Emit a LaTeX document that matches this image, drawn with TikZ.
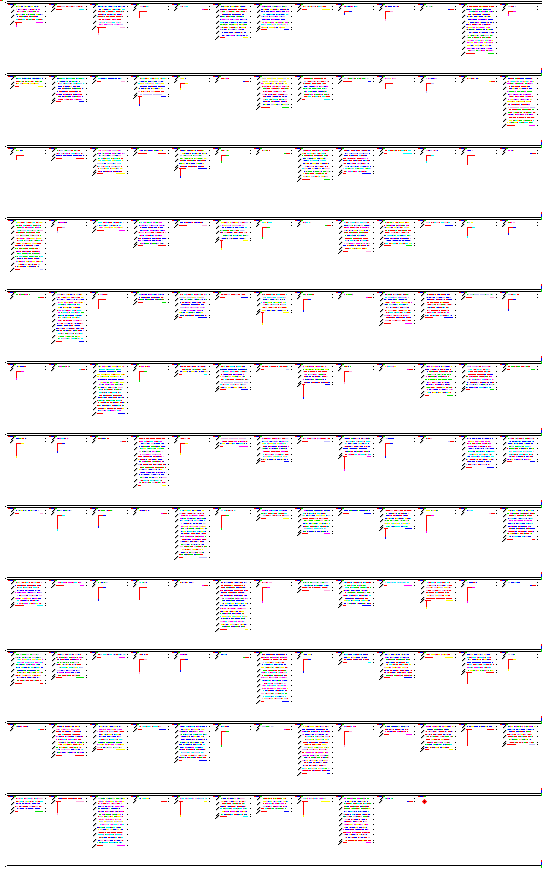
\documentclass[tikz,border=0pt]{standalone}
\definecolor{pal0}{HTML}{FF0000}
\definecolor{pal1}{HTML}{0000FF}
\definecolor{pal2}{HTML}{00E000}
\definecolor{pal3}{HTML}{FFFF00}
\definecolor{pal4}{HTML}{00FFFF}
\definecolor{pal5}{HTML}{FF00FF}
\definecolor{pal6}{HTML}{FFB0E0}
\definecolor{pal7}{HTML}{C0C0FF}
\definecolor{pal8}{HTML}{FF0000}
\definecolor{pal9}{HTML}{0000FF}
\tikzset{
  dbl/.style={line width=1pt, black},
  seg/.style={line width=1pt},
}
\newcommand\myrowbar[3]{%
 \pgfmathrandominteger{\qca}{0}{9}\pgfmathrandominteger{\qcb}{0}{9}%
 \pgfmathrandominteger{\qcc}{0}{9}\pgfmathrandominteger{\qcd}{0}{9}%
 \pgfmathrandominteger{\qpa}{0}{6}\pgfmathrandominteger{\qpb}{0}{8}%
 \pgfmathrandominteger{\qpc}{0}{5}\pgfmathrandominteger{\qpd}{0}{9}%
 \draw[seg,pal\qca] (#1,#3)--(#2,#3);%
 \draw[seg,pal\qcb,dash pattern=on 3pt off 4pt,dash phase=\qpa pt] (#1,#3)--(#2,#3);%
 \draw[seg,pal\qcc,dash pattern=on 2pt off 7pt,dash phase=\qpb pt] (#1,#3)--(#2,#3);%
 \draw[seg,pal\qcd,dash pattern=on 1pt off 5pt,dash phase=\qpc pt] (#1,#3)--(#2,#3);%
 \draw[seg,white,dash pattern=on 1pt off 9pt,dash phase=\qpd pt] (#1,#3)--(#2,#3);%
}
% #1 = cell left x (integer), #2 = row centre y (integer+0.5)
\newcommand\lglyph[2]{%
 \fill[black] (#1+3,#2+0.5) rectangle ++(1,1) (#1+4,#2-0.5) rectangle ++(1,1) (#1+5,#2-1.5) rectangle ++(1,1);%
}
\newcommand\rdot[2]{\fill[black] (#1+37,#2-0.5) rectangle ++(1,1);}
\newcommand\longcell{%
  \pgfmathtruncatemacro\nm{\nr-2}%
  \foreach \i in {0,...,\nm}{%
     \pgfmathsetmacro\ry{\yo+5.5+round(2.6*\i)}%
     \pgfmathrandominteger{\qia}{0}{2}%
     \pgfmathrandominteger{\qib}{0}{4}%
     \ifnum\i=0 \def\qia{1}\fi
     \myrowbar{\xo+7+\qia}{\xo+35-\qib}{\ry}%
     \ifodd\i\else \lglyph{\xo}{\ry}\rdot{\xo}{\ry}\fi
  }%
  \pgfmathsetmacro\ryl{\yo+5.5+round(2.6*(\nr-1))}%
  \pgfmathrandominteger{\qla}{3}{9}%
  \pgfmathrandominteger{\qlb}{3}{9}\pgfmathrandominteger{\qlc}{1}{9}%
  \draw[seg,pal0] (\xo+7,\ryl)--(\xo+7+\qla,\ryl);
  \draw[seg,pal\qlc] (\xo+35-\qlb,\ryl)--(\xo+35,\ryl);
  \lglyph{\xo}{\ryl}\rdot{\xo}{\ryl}
  \fill[black] (\xo+2,\ryl+1.5) rectangle ++(1,1);
  \ifnum\tk>0
    \draw[seg,pal0] (\xo+8.5,\ryl)--(\xo+8.5,\ryl+\tk);
    \draw[seg,pal\qlc] (\xo+8.5,\ryl+\tk-2)--(\xo+8.5,\ryl+\tk);
  \fi
}
\newcommand\shortcell{%
  \pgfmathsetmacro\ryz{\yo+5.5}%
  \pgfmathrandominteger{\qsa}{6}{14}%
  \myrowbar{\xo+8}{\xo+8+\qsa}{\ryz}%
  \lglyph{\xo}{\ryz}\lglyph{\xo-1}{\ryz+3}%
  \rdot{\xo}{\ryz}\rdot{\xo}{\ryz+3}%
  \pgfmathrandominteger{\qlc}{1}{9}%
  \ifnum\tk>0
    \pgfmathsetmacro\ryt{\yo+5.5+5}%
    \draw[seg,pal0] (\xo+8,\ryt)--(\xo+16,\ryt);
    \draw[seg,pal\qlc] (\xo+13,\ryt)--(\xo+16,\ryt);
    \draw[seg,pal0] (\xo+8.5,\ryt)--(\xo+8.5,\ryt+\tk);
    \draw[seg,pal\qlc] (\xo+8.5,\ryt+\tk-2)--(\xo+8.5,\ryt+\tk);
  \else
    \pgfmathsetmacro\ryt{\yo+5.5+3}%
    \draw[seg,pal0] (\xo+30,\ryt)--(\xo+36,\ryt);
    \draw[seg,pal\qlc] (\xo+30,\ryt)--(\xo+32,\ryt);
  \fi
}
\def\bandlist{%
{7/5,2/0,9/8,0/7,0/0,13/0,10/0,2/0,0/4,0/10,0/0,19/0,0/5},%
{4/0,10/0,2/0,8/10,0/7,0/0,12/0,9/0,2/0,0/6,0/10,0/0,19/0},%
{0/5,4/0,10/0,2/0,8/10,0/8,0/0,12/0,10/0,2/0,0/8,0/10,0/0},%
{19/0,0/6,4/0,10/0,2/0,8/10,0/12,0/0,12/0,10/0,2/0,0/11,0/8},%
{0/0,19/0,0/9,4/0,10/0,2/0,8/12,0/12,0/0,12/0,10/0,2/0,0/11},%
{0/8,0/0,19/0,0/10,4/0,10/0,2/0,8/14,0/12,0/0,12/0,10/0,2/0},%
{0/14,0/9,0/0,19/0,0/11,4/0,10/0,2/0,8/14,0/14,0/0,12/0,10/0},%
{2/0,0/15,0/12,0/0,19/0,0/14,4/0,10/0,2/0,8/10,0/17,0/0,12/0},%
{10/0,2/0,0/13,0/12,0/0,19/0,0/15,4/0,10/0,2/0,8/8,0/15,0/0},%
{12/0,10/0,2/0,0/14,0/12,0/0,19/0,0/13,4/0,10/0,2/0,8/11,0/11},%
{0/0,12/0,10/0,2/0,14/0,0/15,0/0,19/0,0/15,4/0,10/0,2/16,8/0},%
{6/0,2/13,19/0,0/0,2/15,8/0,6/0,2/15,18/0,0/0,-1/0,-2/0,-2/0}}
\begin{document}
\begin{tikzpicture}[x=1pt,y=-1pt]
\pgfmathsetseed{20240}
\fill[white] (0,0) rectangle (542,882);
\useasboundingbox (0,0) rectangle (542,882);
% top-left mark
\fill[pal0] (0,0) rectangle (2,1);
\fill[pal2] (2,0) rectangle (3,1);
\foreach \row [count=\kk from 0] in \bandlist {
  \pgfmathsetmacro\yo{round(1.3+72*\kk)}
  \draw[dbl] (7,\yo+0.5)--(542,\yo+0.5);
  \draw[dbl] (7,\yo+2.5)--(542,\yo+2.5);
  \fill[black] (5,\yo+1) rectangle ++(1,1);
  \ifnum\kk>0
    \draw[seg,pal0] (541.5,\yo-5)--(541.5,\yo-3);
    \draw[seg,pal1] (541.5,\yo-3)--(541.5,\yo);
    \draw[seg,pal2] (541.5,\yo)--(541.5,\yo+3);
  \fi
  \foreach \nr/\tk [count=\jj from 0] in \row {
    \pgfmathsetmacro\xo{round(7.6+41.05*\jj)}
    \ifnum\nr>-2
      \draw[seg,pal0] (\xo,\yo+3.5)--(\xo+2,\yo+3.5);
      \draw[seg,pal1] (\xo+2,\yo+3.5)--(\xo+5,\yo+3.5);
      \draw[seg,pal0] (\xo+5,\yo+3.5)--(\xo+6,\yo+3.5);
      \draw[seg,pal2] (\xo+6,\yo+3.5)--(\xo+8,\yo+3.5);
    \fi
    \ifnum\nr>1 \longcell\fi
    \ifnum\nr=0 \shortcell\fi
  }
}
% bottom line
\draw[dbl] (7,865.5)--(542,865.5);
\fill[black] (5,866) rectangle ++(1,1);
\draw[seg,pal0] (541.5,860)--(541.5,862);
\draw[seg,pal1] (541.5,862)--(541.5,865);
\draw[seg,pal2] (541.5,865)--(541.5,868);
% diamond marker
\fill[pal0] (424.5,799) -- (427,801.5) -- (424.5,804) -- (422,801.5) -- cycle;
\fill[black!60!red] (424,801) rectangle ++(1,1);
\end{tikzpicture}
\end{document}
